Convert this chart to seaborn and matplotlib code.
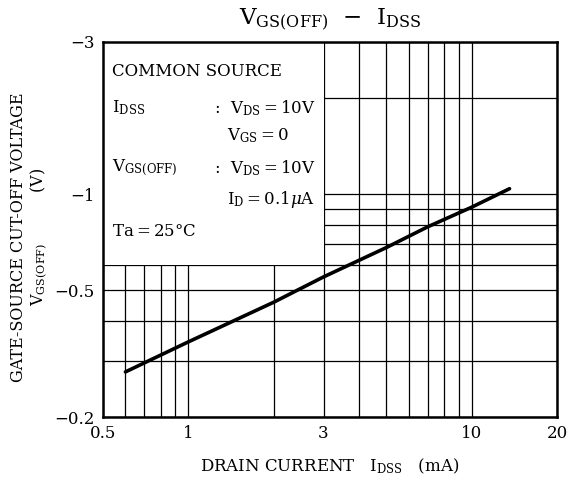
import numpy as np
import pandas as pd
import seaborn as sns
import matplotlib.pyplot as plt
from matplotlib.patches import Rectangle
from matplotlib.ticker import FixedLocator, NullFormatter, FuncFormatter

# --- data (|VGS(OFF)| vs IDSS) ---
idss_ma = [0.6, 1.0, 2.0, 3.0, 5.0, 7.0, 10.0, 13.6]
vgs_off = [-0.277, -0.344, -0.458, -0.55, -0.68, -0.79, -0.91, -1.04]

x_major = [0.5, 1, 3, 10, 20]
x_minor = [0.6, 0.7, 0.8, 0.9, 2, 4, 5, 6, 7, 8, 9]
y_major = [0.2, 0.5, 1, 3]
y_minor = [0.3, 0.4, 0.6, 0.7, 0.8, 0.9, 2]

sns.set_theme(style="white")
plt.rcParams['font.family'] = ['DejaVu Serif']
plt.rcParams['mathtext.fontset'] = 'dejavuserif'
plt.rcParams['text.color'] = 'black'

df = pd.DataFrame({'idss': idss_ma, 'vgs': np.abs(vgs_off)})

fig = plt.figure(figsize=(5.69, 4.80), dpi=100)
ax = fig.add_axes([103 / 569, 1 - 417 / 480, 454 / 569, 375 / 480])

sns.lineplot(data=df, x='idss', y='vgs', ax=ax, color='black', lw=2.6, zorder=5)

ax.set_xscale('log')
ax.set_yscale('log')
ax.set_xlim(0.5, 20)
ax.set_ylim(0.2, 3)

ax.xaxis.set_major_locator(FixedLocator(x_major))
ax.xaxis.set_minor_locator(FixedLocator(x_minor))
ax.yaxis.set_major_locator(FixedLocator(y_major))
ax.yaxis.set_minor_locator(FixedLocator(y_minor))
ax.xaxis.set_major_formatter(FuncFormatter(lambda v, p: f'{v:g}'))
ax.yaxis.set_major_formatter(FuncFormatter(lambda v, p: f'\u2212{v:g}'))
ax.xaxis.set_minor_formatter(NullFormatter())
ax.yaxis.set_minor_formatter(NullFormatter())
ax.tick_params(which='both', length=0, labelsize=12, colors='black', pad=6)

ax.grid(True, which='both', color='black', lw=0.9)
for s in ax.spines.values():
    s.set_color('black')
    s.set_linewidth(1.8)

# condition box covers the grid in the upper-left corner
ax.add_patch(Rectangle((0.5, 0.6), 2.5, 2.4, facecolor='white', edgecolor='none', zorder=2))

ax.set_xlabel('')
ax.set_ylabel('')
fig.text(330 / 569, 1 - 466 / 480, r'DRAIN CURRENT   $\mathrm{I_{DSS}}$   (mA)',
         ha='center', va='center', fontsize=12)
fig.text(30 / 569, 1 - 237 / 480,
         'GATE-SOURCE CUT-OFF VOLTAGE\n' + r'$\mathrm{V_{GS(OFF)}}$          (V)',
         ha='center', va='center', rotation=90, fontsize=11.5, linespacing=1.15)
fig.text(330 / 569, 1 - 20 / 480, r'$\mathrm{V_{GS(OFF)}}$  $-$  $\mathrm{I_{DSS}}$',
         ha='center', va='center', fontsize=16.5)

def put(px, py, s, **kw):
    ax.text((px - 103) / 454, (417 - py) / 375, s, transform=ax.transAxes,
            va='center', ha='left', fontsize=12, zorder=6, **kw)

put(112, 71, 'COMMON SOURCE')
put(112, 108, r'$\mathrm{I_{DSS}}$')
put(214, 108, r':  $\mathrm{V_{DS}}$$=$10V')
put(227, 136, r'$\mathrm{V_{GS}}$$=$0')
put(112, 168, r'$\mathrm{V_{GS(OFF)}}$')
put(214, 168, r':  $\mathrm{V_{DS}}$$=$10V')
put(227, 200, r'$\mathrm{I_{D}}$$=$0.1$\mu$A')
put(112, 232, r'Ta$=$25°C')

fig.savefig('out.png', dpi=100)
